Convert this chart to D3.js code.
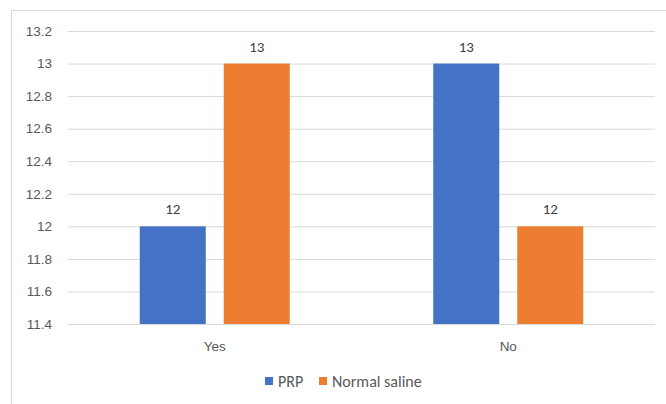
<!DOCTYPE html>
<html>
<head>
<meta charset="utf-8">
<script src="https://cdn.jsdelivr.net/npm/d3@7"></script>
<style>
  html, body { margin: 0; padding: 0; background: #fff; }
  svg { display: block; font-family: Carlito, Calibri, Lato, "Open Sans", sans-serif; }
</style>
</head>
<body>
<svg id="chart" width="666" height="404"></svg>
<script>
const categories = ["Yes", "No"];
const seriesNames = ["PRP", "Normal saline"];
const prpValues = [12, 13];
const salineValues = [13, 12];
const yTicks = [11.4, 11.6, 11.8, 12, 12.2, 12.4, 12.6, 12.8, 13, 13.2];
const colors = ["#4472C4", "#ED7D31"];

const svg = d3.select("#chart");
const W = 666, H = 404;
const plot = { left: 68, right: 655, top: 31, bottom: 324 };

// chart frame
svg.append("rect")
  .attr("x", 11.5).attr("y", 10.5)
  .attr("width", W + 10).attr("height", H + 10)
  .attr("fill", "#fff").attr("stroke", "#d9d9d9").attr("stroke-width", 1);

const y = d3.scaleLinear().domain([11.4, 13.2]).range([plot.bottom, plot.top]);
const x0 = d3.scaleBand().domain(categories).range([plot.left, plot.right]).paddingInner(0).paddingOuter(0);
const x1 = d3.scaleBand().domain(seriesNames).range([0, x0.bandwidth()]).paddingInner(0.214).paddingOuter(0.854);

// gridlines + tick labels
const yAxis = d3.axisLeft(y).tickValues(yTicks).tickSize(-(plot.right - plot.left)).tickPadding(16)
  .tickFormat(d => d3.format("")(+d.toFixed(1)));
const gy = svg.append("g").attr("transform", `translate(${plot.left},0)`).call(yAxis);
gy.select(".domain").remove();
gy.selectAll(".tick line").attr("stroke", "#d9d9d9").attr("stroke-width", 1);
gy.selectAll(".tick text").attr("fill", "#595959").attr("font-size", 13.5).attr("font-family", null);

// bars
const rows = categories.map((c, i) => ({ cat: c, vals: [prpValues[i], salineValues[i]] }));
const groups = svg.append("g").selectAll("g").data(rows).join("g")
  .attr("transform", d => `translate(${x0(d.cat)},0)`);

groups.selectAll("rect").data(d => d.vals.map((v, j) => ({ name: seriesNames[j], v, j })))
  .join("rect")
  .attr("x", d => x1(d.name))
  .attr("width", x1.bandwidth())
  .attr("y", d => y(d.v))
  .attr("height", d => y(11.4) - y(d.v))
  .attr("fill", d => colors[d.j]);

groups.selectAll("text.val").data(d => d.vals.map((v, j) => ({ name: seriesNames[j], v, j })))
  .join("text").attr("class", "val")
  .attr("x", d => x1(d.name) + x1.bandwidth() / 2)
  .attr("y", d => y(d.v) - 12)
  .attr("text-anchor", "middle")
  .attr("font-size", 15)
  .attr("fill", "#404040")
  .text(d => d.v);

// category axis labels
const xAxis = d3.axisBottom(x0).tickSize(0).tickPadding(17);
const gx = svg.append("g").attr("transform", `translate(0,${plot.bottom})`).call(xAxis);
gx.select(".domain").remove();
gx.selectAll(".tick text").attr("fill", "#595959").attr("font-size", 13.5).attr("font-family", null);

// legend
const legend = svg.append("g").attr("transform", "translate(265,381)");
const legendX = [0, 54];
seriesNames.forEach((n, i) => {
  const g = legend.append("g").attr("transform", `translate(${legendX[i]},0)`);
  g.append("rect").attr("x", 0).attr("y", -4).attr("width", 8).attr("height", 8).attr("fill", colors[i]);
  g.append("text").attr("x", 13).attr("y", 0).attr("dy", "0.35em")
    .attr("font-size", 16).attr("fill", "#595959").text(n);
});
</script>
</body>
</html>
